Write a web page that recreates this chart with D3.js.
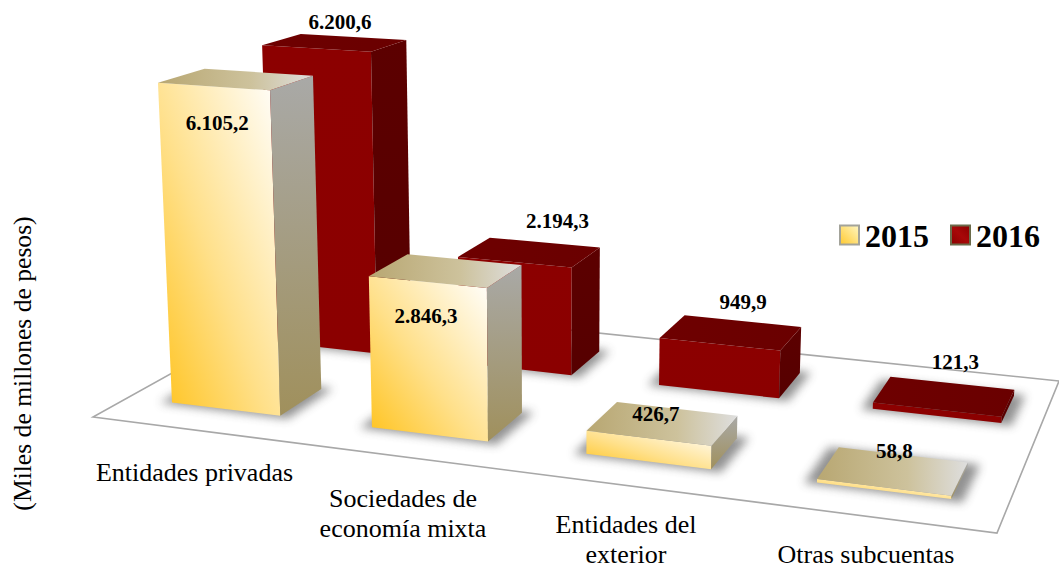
<!DOCTYPE html>
<html><head><meta charset="utf-8">
<script src="https://cdn.jsdelivr.net/npm/d3@7"></script>
<style>html,body{margin:0;padding:0;background:#fff}svg{display:block}text{font-family:"Liberation Serif","Times New Roman",serif;fill:#000}</style>
</head><body><div id="c"></div>
<script>
// DATA
const categories = ["Entidades privadas","Sociedades de economía mixta","Entidades del exterior","Otras subcuentas"];
const seriesNames = ["2015","2016"];
const values2015 = [6105.2,2846.3,426.7,58.8];
const values2016 = [6200.6,2194.3,949.9,121.3];
const categoryLines = [["Entidades privadas"],["Sociedades de","economía mixta"],["Entidades del","exterior"],["Otras subcuentas"]];
const axisTitle = "(Miles de millones de pesos)";

// LAYOUT
const W=1059,H=569;
const valueFmt = d3.formatLocale({decimal:",",thousands:".",grouping:[3],currency:["",""]}).format(",.1f");
const labelNudge2015=[[-19,51],[-20,52],[-7,-2],[1,-13]];
const labelNudge2016=[[5,-14],[28,-24],[12,-23],[11,-27]];
const catLabelPos=[[194.5,481],[403,506.5],[626,532.7],[866,563]];

// Projection: the floor is a homography of the unit square; heights converge to a vanishing point
const floor={g:-0.1383,h:0.2023,a:766.1,b:267.7,c:93,d:42.3,e:-53.9,f:417};
const vanish=[550,9000];
const uScale15=d3.scaleBand().domain(categories).range([0,1]).paddingInner(0.45).paddingOuter(0.225);
const uScale16=d3.scaleBand().domain(categories).range([-0.004,1.012]).paddingInner(0.43).paddingOuter(0.215);
const vScale=d3.scaleBand().domain(seriesNames).range([0,1]).paddingInner(0.594).paddingOuter(0.297);
const hScale=d3.scaleLinear().domain([0,7000]).range([0,-0.04202]);
function project(u,v,val){
  const w=1+floor.g*u+floor.h*v, X=floor.a*u+floor.b*v+floor.c, Y=floor.d*u+floor.e*v+floor.f, t=hScale(val);
  return [(X+t*vanish[0])/(w+t),(Y+t*vanish[1])/(w+t)];
}
const poly=d3.line().curve(d3.curveLinearClosed);

const svg=d3.select("#c").append("svg").attr("width",W).attr("height",H);
const defs=svg.append("defs");
function grad(id,x1,y1,x2,y2,stops){
  const g=defs.append("linearGradient").attr("id",id).attr("x1",x1).attr("y1",y1).attr("x2",x2).attr("y2",y2);
  stops.forEach(s=>g.append("stop").attr("offset",s[0]).attr("stop-color",s[1]));
}
grad("front15",0,1,1,0,[[0,"#ffc21a"],[0.45,"#ffe08a"],[1,"#ffffff"]]);
grad("side15",0,0,0,1,[[0,"#a9a9a7"],[1,"#a0905c"]]);
grad("top15",0,0,1,0,[[0,"#b8a772"],[0.6,"#cdc29c"],[1,"#dedede"]]);
grad("front16",0,0,0,1,[[0,"#8c0000"],[1,"#8b0000"]]);
grad("side16",0,0,0,1,[[0,"#5c0000"],[1,"#560000"]]);
grad("top16",0,0,1,0,[[0,"#6e0000"],[1,"#6a0000"]]);
grad("swatch15",0,1,1,0,[[0,"#ffc92e"],[1,"#fff7c4"]]);
grad("swatch16",0,1,1,0,[[0,"#8b0000"],[0.5,"#a80808"],[1,"#8b0000"]]);
const blur=defs.append("filter").attr("id","blur").attr("x","-30%").attr("y","-50%").attr("width","160%").attr("height","200%");
blur.append("feGaussianBlur").attr("stdDeviation",5);

// Floor
const fc=[[0,0],[1,0],[1,1],[0,1]].map(p=>project(p[0],p[1],0));
svg.append("path").attr("d",poly(fc)).attr("fill","#fff").attr("stroke","#a8a8a8").attr("stroke-width",1.6);

const bars=[];
seriesNames.slice().reverse().forEach(s=>{
  const vals=s==="2015"?values2015:values2016;
  categories.forEach((c,i)=>bars.push({s,c,i,val:vals[i]}));
});
function corners(d){
  const us=d.s==="2015"?uScale15:uScale16;
  const u0=us(d.c),u1=u0+us.bandwidth(),v0=vScale(d.s),v1=v0+vScale.bandwidth();
  return {u0,u1,v0,v1};
}
// Shadows
svg.append("g").selectAll("path").data(bars).join("path")
  .attr("d",d=>{const k=corners(d),e=0.012;return poly([[k.u0-e,k.v0-e],[k.u1+e,k.v0-e],[k.u1+e,k.v1+e],[k.u0-e,k.v1+e]].map(p=>project(p[0],p[1],0)));})
  .attr("fill","#4a4a4a").attr("opacity",0.6).attr("filter","url(#blur)");
// Bars
const gb=svg.append("g").selectAll("g").data(bars).join("g");
const tag=d=>d.s.slice(2);
gb.append("path").attr("d",d=>{const k=corners(d);return poly([[k.u0,k.v0,0],[k.u1,k.v0,0],[k.u1,k.v0,d.val],[k.u0,k.v0,d.val]].map(p=>project(...p)));})
  .attr("fill",d=>`url(#front${tag(d)})`);
gb.append("path").attr("d",d=>{const k=corners(d);return poly([[k.u1,k.v0,0],[k.u1,k.v1,0],[k.u1,k.v1,d.val],[k.u1,k.v0,d.val]].map(p=>project(...p)));})
  .attr("fill",d=>`url(#side${tag(d)})`);
gb.append("path").attr("d",d=>{const k=corners(d);return poly([[k.u0,k.v0],[k.u1,k.v0],[k.u1,k.v1],[k.u0,k.v1]].map(p=>project(p[0],p[1],d.val)));})
  .attr("fill",d=>`url(#top${tag(d)})`);

// Value labels
svg.append("g").selectAll("text").data(bars).join("text")
  .attr("text-anchor","middle").attr("font-weight","bold").attr("font-size",21)
  .attr("transform",d=>{
    const k=corners(d),p=project((k.u0+k.u1)/2,(k.v0+k.v1)/2,d.val),n=(d.s==="2015"?labelNudge2015:labelNudge2016)[d.i];
    return `translate(${p[0]+n[0]},${p[1]+n[1]})`;})
  .text(d=>valueFmt(d.val));

// Category labels
const cg=svg.append("g").selectAll("text").data(categoryLines).join("text")
  .attr("text-anchor","middle").attr("font-size",26)
  .attr("transform",(d,i)=>`translate(${catLabelPos[i][0]},${catLabelPos[i][1]})`);
cg.selectAll("tspan").data(d=>d).join("tspan").attr("x",0).attr("y",(d,i)=>i*30).text(d=>d);

// Axis title
svg.append("text").attr("transform","translate(31,363.5) rotate(-90)").attr("text-anchor","middle").attr("font-size",25.6).text(axisTitle);

// Legend
const legendPos=[[840,865],[951,976]];
const lg=svg.append("g").selectAll("g").data(seriesNames).join("g");
lg.append("rect").attr("x",(d,i)=>legendPos[i][0]).attr("y",225.5).attr("width",19).attr("height",19)
  .attr("fill",d=>`url(#swatch${tag({s:d})})`).attr("stroke",(d,i)=>i?"#6b6b4a":"#a3a39a").attr("stroke-width",2);
lg.append("text").attr("x",(d,i)=>legendPos[i][1]).attr("y",246.5).attr("font-size",32).attr("font-weight","bold").text(d=>d);
</script></body></html>
